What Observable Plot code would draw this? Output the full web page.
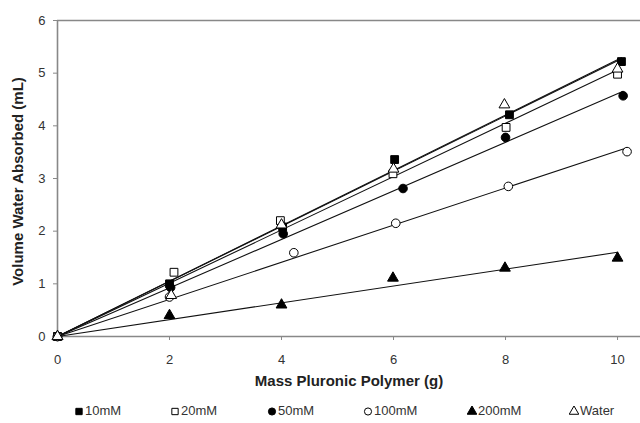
<!DOCTYPE html>
<html>
<head>
<meta charset="utf-8">
<script src="https://cdn.jsdelivr.net/npm/d3@7"></script>
<script src="https://cdn.jsdelivr.net/npm/@observablehq/plot@0.6"></script>
<style>
  html, body { margin: 0; padding: 0; background: #fff; }
  #chart svg { display: block; }
  #legend { position: relative; height: 22px; width: 640px; font-family: "Liberation Sans", Arial, sans-serif; font-size: 13px; color: #333; }
  #legend .item { position: absolute; top: 0; height: 22px; line-height: 22px; white-space: nowrap; }
  #legend svg { vertical-align: middle; margin-right: 1px; position: relative; top: -1px; }
</style>
</head>
<body>
<div id="chart"></div>
<div id="legend"></div>
<script>
// Series names
const seriesNames = ["10mM", "20mM", "50mM", "100mM", "200mM", "Water"];
// Mass of Pluronic polymer (g) per series
const x10mM  = [0, 2.00, 4.02, 6.02, 8.07, 10.07];
const x20mM  = [0, 2.08, 3.98, 5.99, 8.01, 10.00];
const x50mM  = [0, 2.02, 4.03, 6.17, 8.00, 10.10];
const x100mM = [0, 2.00, 4.22, 6.04, 8.05, 10.17];
const x200mM = [0, 2.00, 4.00, 5.99, 7.99, 10.00];
const xWater = [0, 2.03, 4.00, 6.00, 7.98, 10.00];
// Volume water absorbed (mL) per series
const y10mM  = [0, 1.00, 2.08, 3.36, 4.21, 5.22];
const y20mM  = [0, 1.22, 2.20, 3.09, 3.97, 4.98];
const y50mM  = [0, 0.93, 1.95, 2.81, 3.78, 4.57];
const y100mM = [0, 0.75, 1.59, 2.15, 2.85, 3.51];
const y200mM = [0, 0.40, 0.60, 1.11, 1.30, 1.49];
const yWater = [0, 0.78, 2.12, 3.18, 4.40, 5.08];
// Axis ticks
const xTicks = [0, 2, 4, 6, 8, 10];
const yTicks = [0, 1, 2, 3, 4, 5, 6];

const xs = [x10mM, x20mM, x50mM, x100mM, x200mM, xWater];
const ys = [y10mM, y20mM, y50mM, y100mM, y200mM, yWater];
const symbolStyles = [
  {symbol: "square", fill: "black", r: 4.4},
  {symbol: "square", fill: "white", r: 4.4},
  {symbol: "circle", fill: "black", r: 4.3},
  {symbol: "circle", fill: "white", r: 4.3},
  {symbol: "triangle", fill: "black", r: 4.0},
  {symbol: "triangle", fill: "white", r: 4.0}
];

const series = seriesNames.map((name, i) => ({
  name,
  points: xs[i].map((x, j) => ({x, y: ys[i][j]}))
}));

// Linear trend lines through origin (least squares)
const trendMarks = series.map(s => {
  const sxy = d3.sum(s.points, p => p.x * p.y);
  const sxx = d3.sum(s.points, p => p.x * p.x);
  const slope = sxy / sxx;
  const xmax = d3.max(s.points, p => p.x);
  const pts = [{x: 0, y: 0}, {x: xmax, y: slope * xmax}];
  return Plot.line(pts, {x: "x", y: "y", stroke: "#111", strokeWidth: 1.1});
});

const dotMarks = series.map((s, i) =>
  Plot.dot(s.points, {x: "x", y: "y", symbol: () => symbolStyles[i].symbol, r: symbolStyles[i].r,
    fill: symbolStyles[i].fill, stroke: "black", strokeWidth: 1})
);

const chart = Plot.plot({
  width: 640,
  height: 400,
  marginLeft: 57,
  marginRight: 0,
  marginTop: 20,
  marginBottom: 64,
  style: {fontFamily: "'Liberation Sans', Arial, sans-serif", fontSize: "13px", color: "#333", background: "white"},
  x: {domain: [0, 10.41]},
  y: {domain: [0, 6]},
  symbol: {type: "identity"},
  marks: [
    Plot.ruleY([6], {stroke: "#888", strokeWidth: 1.6}),
    Plot.ruleX([0], {stroke: "#888", strokeWidth: 1.6}),
    Plot.ruleY([0], {stroke: "#888", strokeWidth: 1.6}),
    Plot.axisX({ticks: xTicks, tickSize: 4, tickPadding: 14, label: null, stroke: "#888", fill: "#333", tickFormat: d3.format("d")}),
    Plot.axisY({ticks: yTicks, tickSize: 4, tickPadding: 8, label: null, stroke: "#888", fill: "#333", tickFormat: d3.format("d")}),
    ...trendMarks,
    ...dotMarks,
    Plot.text(["Mass Pluronic Polymer (g)"], {frameAnchor: "bottom", dy: 49, fontWeight: "bold", fontSize: 15, fill: "#222"}),
    Plot.text(["Volume Water Absorbed (mL)"], {frameAnchor: "left", textAnchor: "middle", dx: -39, dy: 3, rotate: -90, fontWeight: "bold", fontSize: 15, fill: "#222"})
  ]
});
document.getElementById("chart").appendChild(chart);

// Legend
const legendLeft = [74, 170, 267, 363, 467, 569];
const legend = document.getElementById("legend");
seriesNames.forEach((name, i) => {
  const st = symbolStyles[i];
  const item = document.createElement("div");
  item.className = "item";
  item.style.left = legendLeft[i] + "px";
  const svg = d3.create("svg").attr("width", 10).attr("height", 10);
  const sym = {square: d3.symbolSquare, circle: d3.symbolCircle, triangle: d3.symbolTriangle}[st.symbol];
  svg.append("path")
    .attr("transform", "translate(5,5.5)")
    .attr("d", d3.symbol(sym, 40)())
    .attr("fill", st.fill)
    .attr("stroke", "black")
    .attr("stroke-width", 1);
  item.appendChild(svg.node());
  item.appendChild(document.createTextNode(name));
  legend.appendChild(item);
});
</script>
</body>
</html>
